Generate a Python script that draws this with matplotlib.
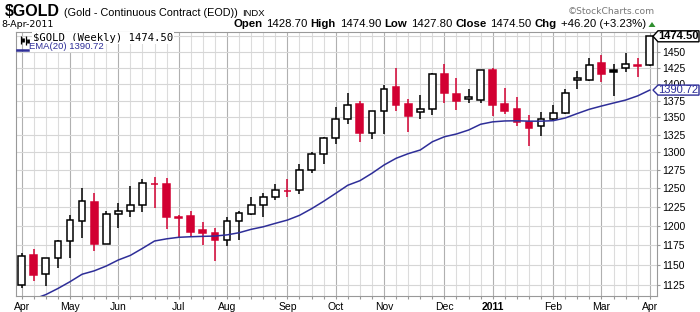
import matplotlib
matplotlib.use("Agg")
import matplotlib.pyplot as plt
from matplotlib.patches import Polygon
from matplotlib.transforms import IdentityTransform
from matplotlib.ticker import NullLocator, FixedLocator

plt.rcParams["font.family"] = ["Liberation Sans", "DejaVu Sans"]

# weekly candles, week ending 9-Apr-2010 .. 8-Apr-2011
opens = [1125, 1162, 1138, 1158, 1180, 1206, 1232, 1177, 1216, 1220,
         1227, 1256, 1256, 1209.7, 1213, 1194, 1190, 1181, 1206, 1216,
         1228, 1238, 1246.5, 1247, 1275, 1298, 1320, 1347, 1370, 1328,
         1359, 1395, 1370, 1357.5, 1363, 1415, 1385, 1377, 1376, 1421,
         1370, 1362, 1343, 1338, 1347, 1357, 1406.5, 1406, 1433, 1421,
         1424.5, 1428.6, 1428.7]
highs = [1165, 1170, 1159, 1182, 1214, 1250, 1243, 1219, 1230, 1253,
         1262, 1265, 1264, 1214, 1219, 1205, 1197, 1211, 1219, 1238,
         1244, 1256, 1262, 1283, 1300, 1321, 1365, 1387, 1375, 1360,
         1398, 1425, 1377, 1383, 1417, 1431, 1409, 1392, 1421, 1425,
         1394, 1380, 1354, 1358, 1368, 1392, 1420, 1440, 1445, 1430,
         1448, 1440, 1474.9]
lows = [1121, 1130, 1124, 1146, 1158, 1184, 1167, 1176, 1197, 1211,
        1218, 1224, 1196, 1185, 1187, 1175, 1155, 1174, 1182, 1214,
        1211, 1234, 1238, 1242, 1271, 1283, 1312, 1341, 1315, 1319,
        1326, 1360, 1329, 1348, 1354, 1372, 1361, 1371, 1372, 1352,
        1355, 1338, 1308, 1323, 1345, 1355, 1393, 1404, 1403, 1382,
        1419, 1410, 1427.8]
closes = [1161, 1137, 1158, 1180, 1208, 1233, 1177, 1215, 1220, 1227,
          1256.6, 1256, 1212, 1211, 1192, 1190, 1181, 1206, 1217, 1228,
          1238, 1247, 1246, 1275, 1297, 1320, 1347, 1369, 1328, 1359,
          1393, 1369, 1352, 1363, 1415, 1386, 1375, 1380, 1421, 1369,
          1360, 1343, 1335, 1348, 1356, 1387, 1409.6, 1429, 1416, 1418,
          1430, 1428.3, 1474.5]
ema20 = [1102, 1108, 1113.4, 1120.8, 1129.1, 1138.3, 1142.5, 1148.5, 1156.1, 1161.9,
         1170.8, 1180.2, 1183.0, 1185.0, 1185.7, 1186.2, 1186.6, 1188.1, 1190.9, 1195.3,
         1198.6, 1203.1, 1207.4, 1213.6, 1222.4, 1232.3, 1243.0, 1254.0, 1260.2, 1270.4,
         1281.9, 1291.3, 1297.8, 1303.0, 1314.7, 1321.9, 1325.9, 1331.6, 1340.0, 1343.5,
         1344.8, 1345.1, 1344.5, 1344.5, 1345.2, 1349.1, 1355.7, 1362.0, 1366.8, 1371.3,
         1375.7, 1382.0, 1390.72]

month_idx = [0, 4, 8, 13, 17, 22, 26, 30, 35, 39, 44, 48, 52]
month_labels = ["Apr", "May", "Jun", "Jul", "Aug", "Sep", "Oct", "Nov", "Dec",
                "2011", "Feb", "Mar", "Apr"]
price_ticks = [1125, 1150, 1175, 1200, 1225, 1250, 1275, 1300, 1325, 1350,
               1375, 1400, 1425, 1450]
grid_levels = price_ticks + [1475]

header = [("Open", True), ("1428.70", False), ("High", True), ("1474.90", False),
          ("Low", True), ("1427.80", False), ("Close", True), ("1474.50", False),
          ("Chg", True), ("+46.20 (+3.23%)", False)]

RED = "#d20032"
NAVY = "#2e2e98"
W, H = 700, 312

fig = plt.figure(figsize=(7, 3.12), dpi=100)
ax = fig.add_axes([16 / W, 1 - 296 / H, (657 - 16) / W, (296 - 32) / H])
ax.set_yscale("log")
ax.set_xlim(-0.47, 52.6)
ax.set_ylim(1111.7, 1481.4)

n = len(closes)
x = list(range(n))

# grid: light weekly lines, darker month lines, horizontal every 25
for i in x:
    c = "#b0b0b0" if i in month_idx else "#dcdcdc"
    ax.axvline(i, color=c, lw=0.8, zorder=0)
for lv in grid_levels:
    ax.axhline(lv, color="#d6d6d6", lw=0.8, zorder=0)

# candles: hollow if close > open, red if close < previous close
for i in x:
    prev = closes[i - 1] if i > 0 else opens[i]
    col = RED if closes[i] < prev else "black"
    face = "white" if closes[i] > opens[i] else col
    lo, hi = min(opens[i], closes[i]), max(opens[i], closes[i])
    ax.vlines(i, lows[i], highs[i], color=col, lw=1.1, zorder=2)
    ax.bar(i, hi - lo, bottom=lo, width=0.56, facecolor=face,
           edgecolor=col, linewidth=1.1, zorder=3)

ax.plot(x, ema20, color=NAVY, lw=1.1, zorder=5)

# axes styling
for s in ax.spines.values():
    s.set_color("#999999")
    s.set_linewidth(0.8)
ax.yaxis.tick_right()
ax.yaxis.set_minor_locator(NullLocator())
ax.yaxis.set_major_locator(FixedLocator(price_ticks))
ax.set_yticklabels([str(p) for p in price_ticks])
ax.tick_params(axis="y", length=2.5, width=0.8, color="#999999", pad=1,
               labelsize=7.5)
ax.set_xticks(month_idx)
ax.set_xticklabels(month_labels)
ax.set_xticks(x, minor=True)
ax.tick_params(axis="x", which="both", length=2, width=0.8, color="#999999",
               pad=2, labelsize=7.5)
for t in ax.get_xticklabels():
    if t.get_text() == "2011":
        t.set_fontweight("bold")

# legend lines inside plot
ax.text(0.026, 0.995, "$GOLD (Weekly) 1474.50", transform=ax.transAxes,
        family="DejaVu Sans Mono", fontsize=7.6, va="top", ha="left",
        bbox=dict(facecolor="white", edgecolor="none", pad=0.6), zorder=6)
# little candle icon in front of the legend
for xa, y0, y1, lw in [(0.0075, 0.955, 0.985, 0.9), (0.0105, 0.962, 0.978, 2.0),
                       (0.0150, 0.950, 0.985, 0.9), (0.0180, 0.958, 0.975, 2.0)]:
    ax.plot([xa, xa], [y0, y1], transform=ax.transAxes, color="black",
            lw=lw, zorder=7, clip_on=False, solid_capstyle="butt")
ax.plot([0.002, 0.018], [0.93, 0.93], transform=ax.transAxes, color=NAVY,
        lw=1.8, zorder=7, clip_on=False)
ax.text(0.02, 0.962, "EMA(20) 1390.72", transform=ax.transAxes,
        fontsize=6.8, color=NAVY, va="top", ha="left",
        bbox=dict(facecolor="white", edgecolor="none", pad=0.6), zorder=6)


def fx(px):
    return px / W


def fy(py):
    return 1 - py / H


renderer = fig.canvas.get_renderer()


def width_px(t):
    return t.get_window_extent(renderer).width


# header, line 1: left to right
xl = 5
for txt, size, wt in [("$GOLD", 11.5, "bold"),
                      ("(Gold - Continuous Contract (EOD))", 7.8, "normal"),
                      ("INDX", 6.8, "normal")]:
    t = fig.text(fx(xl), fy(15.5), txt, weight=wt, fontsize=size, va="baseline")
    xl += width_px(t) + 4

fig.text(fx(1), fy(27), "8-Apr-2011", family="DejaVu Sans", fontsize=6.8,
         va="baseline")
fig.text(fx(655), fy(14), "\u00a9StockCharts.com", family="DejaVu Sans",
         fontsize=6.6, color="#777777", ha="right", va="baseline")
fig.add_artist(Polygon([[fx(648.5), fy(27)], [fx(655.5), fy(27)], [fx(652), fy(22)]],
                       closed=True, transform=fig.transFigure,
                       facecolor="#2f8f2f", edgecolor="none"))

# header, line 2: right to left
xr = 646
for label, bold in reversed(header):
    t = fig.text(fx(xr), fy(27), label, fontsize=8.2,
                 weight="bold" if bold else "normal", ha="right", va="baseline")
    xr -= width_px(t) + (4 if not bold else 3)

# right-side value flags
fig.canvas.draw()


def flag(val, text, edge, bold, ypad):
    yd = ax.transData.transform((0, val))[1]
    pts = [[653, yd], [658, yd + ypad], [699, yd + ypad],
           [699, yd - ypad], [658, yd - ypad]]
    fig.add_artist(Polygon(pts, closed=True, transform=IdentityTransform(),
                           facecolor="white", edgecolor=edge, lw=1.0, zorder=8))
    fig.text(678.5 / W, yd / H, text, ha="center", va="center",
             fontsize=8, color=edge, weight="bold" if bold else "normal",
             zorder=9)


flag(closes[-1], "%.2f" % closes[-1], "black", True, 5.5)
flag(ema20[-1], "%.2f" % ema20[-1], NAVY, False, 5)

fig.savefig("out.png", dpi=100)
